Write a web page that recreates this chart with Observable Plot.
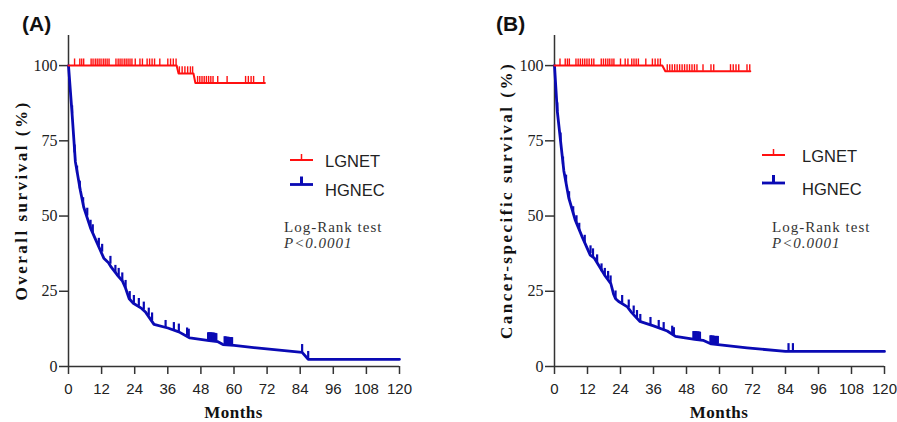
<!DOCTYPE html>
<html><head><meta charset="utf-8">
<script src="https://cdn.jsdelivr.net/npm/d3@7"></script>
<script src="https://cdn.jsdelivr.net/npm/@observablehq/plot@0.6"></script>
<style>
body{margin:0;background:#fff}
#wrap{position:relative;width:897px;height:422px;overflow:hidden;background:#fff}
.panel{position:absolute;top:0}
</style></head><body><div id="wrap"></div>
<script>
// ---------- data ----------
const xTicks = [0, 12, 24, 36, 48, 60, 72, 84, 96, 108, 120];
const yTicks = [0, 25, 50, 75, 100];
const groups = ["LGNET", "HGNEC"];
const panelLabels = ["(A)", "(B)"];
const yTitles = ["Overall survival (%)", "Cancer-specific survival (%)"];
const testLines = ["Log-Rank test", "P<0.0001"];

// Panel A: overall survival curves [month, survival %]
const osLGNET = [[0,100],[39.2,100],[39.9,97.4],[45.3,97.4],[46.0,94.2],[71.2,94.2]];
const osHGNEC = [[0,100],[1.3,84],[2.5,68],[4.3,58.5],[5.5,53],[8,46],[10.4,41],[12.8,36],[14.5,34.5],[15.5,33],[17.6,30.5],[19.5,28.5],[20.7,26],[22,22.5],[23.5,21],[26.5,19.3],[28,18],[31,14],[36,12.8],[40,11.5],[44,9.5],[51,8.6],[54,8.3],[56,7.3],[60,7],[70,6],[84.7,4.7],[86.9,2.4],[120,2.4]];
// censored observations [month, survival %]
const osLGNETcens = [[2.2,100],[4.1,100],[4.8,100],[5.5,100],[8.2,100],[8.9,100],[9.7,100],[10.4,100],[11.1,100],[11.8,100],[12.6,100],[13.3,100],[14.0,100],[14.7,100],[17.2,100],[18.0,100],[18.7,100],[19.4,100],[20.2,100],[20.9,100],[21.6,100],[22.3,100],[23.0,100],[24.2,100],[25.9,100],[26.8,100],[28.5,100],[29.4,100],[30.3,100],[31.2,100],[33.1,100],[36.0,100],[37.0,100],[38.0,100],[39.0,100],
  [40.2,97.4],[41.2,97.4],[42.2,97.4],[43.2,97.4],[44.2,97.4],[45.0,97.4],
  [46.8,94.2],[47.6,94.2],[48.4,94.2],[49.2,94.2],[50.0,94.2],[50.8,94.2],[51.6,94.2],[52.4,94.2],[54.1,94.2],[57.5,94.2],[64.2,94.2],[65.2,94.2],[66.2,94.2],[67.1,94.2],[70.8,94.2]];
const osHGNECcens = [[1.3,84],[2.2,71],[3.1,64],[4.1,59],[5.3,53.5],[6.8,50],[8,46],[8.8,44.5],[11,40],[12.2,38],[15.2,34],[17,31],[18.2,30],[19.5,28.5],[20.7,26],[22.2,22.3],[23.7,21],[25.5,20],[27.3,18.8],[29.1,16.8],[30.3,15.2],[35.2,12.7],[38.2,12],[40,11.5],[43,10.2],[43.6,9.8],
  [50.6,8.6],[50.9,8.6],[51.2,8.6],[51.5,8.6],[51.8,8.6],[52.1,8.5],[52.4,8.5],[52.7,8.5],[53.0,8.4],[53.3,8.4],[53.6,8.3],
  [56.6,7.3],[56.9,7.2],[57.2,7.2],[57.5,7.1],[57.8,7.1],[58.1,7.1],[58.4,7.0],[58.7,7.0],[59.0,7.0],[59.3,7.0],
  [84.7,4.7],[86.9,2.4]];

// Panel B: cancer-specific survival curves
const cssLGNET = [[0,100],[39.2,100],[40.3,98.1],[71.2,98.1]];
const cssHGNEC = [[0,100],[1,85],[2.2,75],[3.4,65],[5.2,56],[7.6,48.5],[10.1,43],[13,37],[14.5,36],[15.5,34.5],[18.5,30],[20.5,27.5],[21.5,24],[22.2,22.5],[23.5,21.5],[26.5,19.8],[28,18],[31,15],[36,13.5],[41,11.8],[44,10],[51,9],[54,8.7],[57,7.5],[70,6.2],[84,5],[120,5]];
const cssLGNETcens = [[2.0,100],[3.9,100],[4.7,100],[5.4,100],[7.8,100],[8.6,100],[9.4,100],[10.2,100],[11.0,100],[11.8,100],[12.6,100],[13.5,100],[14.3,100],[17.0,100],[17.8,100],[18.6,100],[19.4,100],[20.1,100],[20.9,100],[21.6,100],[24.0,100],[25.7,100],[26.7,100],[28.1,100],[28.9,100],[29.7,100],[30.5,100],[33.2,100],[35.6,100],[36.6,100],[37.6,100],[38.5,100],
  [41.0,98.1],[41.9,98.1],[42.8,98.1],[43.7,98.1],[44.6,98.1],[45.5,98.1],[46.4,98.1],[47.3,98.1],[48.2,98.1],[49.1,98.1],[50.0,98.1],[50.9,98.1],[51.8,98.1],[54.0,98.1],[56.9,98.1],[57.9,98.1],[64.0,98.1],[65.0,98.1],[66.0,98.1],[67.0,98.1],[70.0,98.1],[71.0,98.1]];
const cssHGNECcens = [[1,85],[2.2,75],[3.1,67],[4.2,61],[5.3,55.5],[6.8,50.5],[8,47.5],[9,45],[11,41],[13.1,37.5],[14,36.5],[15.5,34.5],[17.1,31.5],[18.3,30],[19.5,29],[20.4,27.5],[22.2,22.5],[24.6,21],[27,19.5],[28.8,17.5],[30,16],[31.2,14.7],[34.9,13.7],[37.9,12.7],[39.7,12],[42.8,10.8],[43.4,10.3],
  [50.5,9.0],[50.8,9.0],[51.1,9.0],[51.4,9.0],[51.7,8.9],[52.0,8.9],[52.3,8.9],[52.6,8.8],[52.9,8.8],
  [56.7,7.6],[57.0,7.6],[57.3,7.5],[57.6,7.5],[57.9,7.5],[58.2,7.4],[58.5,7.4],[58.8,7.4],[59.1,7.4],[59.4,7.4],
  [85.1,5],[86.7,5]];

// ---------- style ----------
const RED = "#ff1010", BLUE = "#0a0ab4", AX = "#333";
const panels = [
  {left:0, width:448, ml:68, mr:49, lg:osLGNET, hg:osHGNEC, lgc:osLGNETcens, hgc:osHGNECcens,
   label:panelLabels[0], labelX:22, title:yTitles[0], titleX:27, legX:290, legY1:160, legY2:184.5, textX:325, testX:284},
  {left:448, width:449, ml:106, mr:13, lg:cssLGNET, hg:cssHGNEC, lgc:cssLGNETcens, hgc:cssHGNECcens,
   label:panelLabels[1], labelX:48, title:yTitles[1], titleX:64, legX:314, legY1:155, legY2:183, textX:354, testX:324}
];

const wrap = document.getElementById("wrap");
panels.forEach(p => {
  const svg = Plot.plot({
    width: p.width, height: 422,
    marginLeft: p.ml, marginRight: p.mr, marginTop: 35, marginBottom: 56,
    style: {background: "transparent", overflow: "visible"},
    x: {domain: [0, 120], label: null},
    y: {domain: [0, 110], label: null},
    marks: [
      Plot.axisX({ticks: xTicks, tickSize: 8, tickPadding: 9, fontSize: 15, fontFamily: "Liberation Sans, Arial, sans-serif", stroke: AX, strokeWidth: 1.5, fill: "#222"}),
      Plot.axisY({ticks: yTicks, tickSize: 9, tickPadding: 2, fontSize: 16, fontFamily: "Liberation Serif, serif", stroke: AX, strokeWidth: 1.5, fill: "#222"}),
      Plot.ruleY([0], {stroke: AX, strokeWidth: 1.5}),
      Plot.ruleX([0], {stroke: AX, strokeWidth: 1.5}),
      Plot.line(p.hg, {x: d => d[0], y: d => d[1], stroke: BLUE, strokeWidth: 2.8}),
      Plot.ruleX(p.hgc, {x: d => d[0], y1: d => d[1], y2: d => d[1] + 2.6, stroke: BLUE, strokeWidth: 2.2}),
      Plot.line(p.lg, {x: d => d[0], y: d => d[1], stroke: RED, strokeWidth: 2}),
      Plot.ruleX(p.lgc, {x: d => d[0], y1: d => d[1], y2: d => d[1] + 2.2, stroke: RED, strokeWidth: 1.4})
    ]
  });
  const div = document.createElement("div");
  div.className = "panel";
  div.style.left = p.left + "px";
  div.appendChild(svg);
  wrap.appendChild(div);

  const s = d3.select(svg);
  const plotCx = p.ml + (p.width - p.ml - p.mr) / 2;
  // panel label
  s.append("text").attr("x", p.labelX).attr("y", 30.5).attr("text-anchor", "start")
    .attr("font-family", "Liberation Sans, Arial, sans-serif").attr("font-weight", "bold").attr("font-size", 21)
    .attr("fill", "#111").text(p.label);
  // y title
  s.append("text").attr("transform", `translate(${p.titleX},200.5) rotate(-90)`).attr("text-anchor", "middle")
    .attr("font-family", "Liberation Serif, serif").attr("font-weight", "bold").attr("font-size", 17)
    .attr("letter-spacing", "2.5px").attr("fill", "#111").text(p.title);
  // x title
  s.append("text").attr("x", plotCx).attr("y", 418).attr("text-anchor", "middle")
    .attr("font-family", "Liberation Serif, serif").attr("font-weight", "bold").attr("font-size", 17)
    .attr("letter-spacing", "0.5px").attr("fill", "#111").text("Months");
  // legend
  const leg = [
    {name: groups[0], color: RED, y: p.legY1, w: 2, tw: 1.5, th: 6, ty: p.legY1 + 6.5},
    {name: groups[1], color: BLUE, y: p.legY2, w: 2.8, tw: 3, th: 8, ty: p.legY2 + 11.5}
  ];
  leg.forEach(l => {
    s.append("line").attr("x1", p.legX).attr("x2", p.legX + 23).attr("y1", l.y).attr("y2", l.y)
      .attr("stroke", l.color).attr("stroke-width", l.w);
    s.append("line").attr("x1", p.legX + 11.5).attr("x2", p.legX + 11.5).attr("y1", l.y).attr("y2", l.y - l.th)
      .attr("stroke", l.color).attr("stroke-width", l.tw);
    s.append("text").attr("x", p.textX).attr("y", l.ty).attr("text-anchor", "start")
      .attr("font-family", "Liberation Sans, Arial, sans-serif").attr("font-size", 16.5).attr("fill", "#222").text(l.name);
  });
  // test annotation
  s.append("text").attr("x", p.testX).attr("y", 232).attr("text-anchor", "start")
    .attr("font-family", "Liberation Serif, serif").attr("font-size", 15).attr("letter-spacing", "1px")
    .attr("fill", "#333").text(testLines[0]);
  s.append("text").attr("x", p.testX).attr("y", 248).attr("text-anchor", "start")
    .attr("font-family", "Liberation Serif, serif").attr("font-size", 15).attr("font-style", "italic").attr("letter-spacing", "1px")
    .attr("fill", "#333").text(testLines[1]);
});
</script></body></html>
